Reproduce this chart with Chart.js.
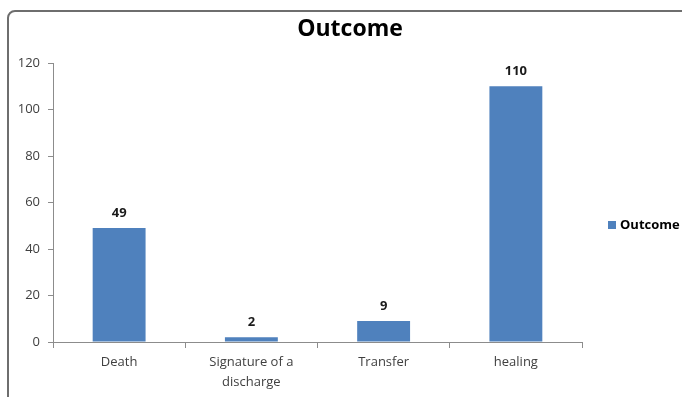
<!DOCTYPE html>
<html>
<head>
<meta charset="utf-8">
<script src="https://cdn.jsdelivr.net/npm/chart.js@4.4.1/dist/chart.umd.min.js"></script>
<style>
  html, body { margin: 0; padding: 0; background: #fff; }
  #wrap { width: 682px; height: 397px; position: relative; }
</style>
</head>
<body>
<div id="wrap"><canvas id="c" width="682" height="397"></canvas></div>
<script>
const categories = ['Death', ['Signature of a', 'discharge'], 'Transfer', 'healing'];
const outcomeValues = [49, 2, 9, 110];
const yTicks = [0, 20, 40, 60, 80, 100, 120];
const seriesName = 'Outcome';
const chartTitle = 'Outcome';

const BAR_BLUE = '#4f81bd';
const AXIS_GREY = '#8c8c8c';
const FONT = "'Open Sans', 'Noto Sans', sans-serif";

// Rounded chart frame, title, value labels and legend
const decorations = {
  id: 'decorations',
  beforeDraw(chart) {
    const ctx = chart.ctx;
    ctx.save();
    ctx.fillStyle = '#fff';
    ctx.fillRect(0, 0, chart.width, chart.height);
    ctx.strokeStyle = '#6e6e6e';
    ctx.lineWidth = 2;
    ctx.beginPath();
    ctx.roundRect(8, 11, 720, 440, 7);
    ctx.stroke();
    ctx.restore();
  },
  afterDatasetsDraw(chart) {
    const ctx = chart.ctx;
    ctx.save();
    // title
    ctx.fillStyle = '#000';
    ctx.font = "bold 23px " + FONT;
    ctx.textAlign = 'center';
    ctx.textBaseline = 'alphabetic';
    ctx.fillText(chartTitle, 350, 36);

    // values above bars
    const meta = chart.getDatasetMeta(0);
    ctx.font = "bold 13px " + FONT;
    ctx.textBaseline = 'middle';
    ctx.fillStyle = '#1a1a1a';
    meta.data.forEach((bar, i) => {
      ctx.fillText(String(chart.data.datasets[0].data[i]), bar.x, bar.y - 15);
    });

    // legend
    const ds = chart.data.datasets[0];
    const lx = chart.chartArea.right + 26;
    const ly = 225;
    ctx.fillStyle = ds.backgroundColor;
    ctx.fillRect(lx, ly - 4, 8, 8);
    ctx.fillStyle = '#000';
    ctx.font = "bold 13px " + FONT;
    ctx.textAlign = 'left';
    ctx.fillText(ds.label, lx + 12, ly);
    ctx.restore();
  }
};

new Chart(document.getElementById('c'), {
  type: 'bar',
  data: {
    labels: categories,
    datasets: [{
      label: seriesName,
      data: outcomeValues,
      backgroundColor: BAR_BLUE,
      borderWidth: 0,
      barPercentage: 0.4,
      categoryPercentage: 1.0
    }]
  },
  options: {
    responsive: false,
    animation: false,
    devicePixelRatio: 1,
    layout: { padding: { left: 10, right: 100, top: 63, bottom: 0 } },
    plugins: {
      legend: { display: false },
      title: { display: false },
      tooltip: { enabled: false }
    },
    scales: {
      x: {
        grid: { drawOnChartArea: false, offset: true, tickLength: 6, color: AXIS_GREY, lineWidth: 1 },
        border: { color: AXIS_GREY, width: 1 },
        ticks: {
          color: '#404040',
          font: { family: FONT, size: 13, lineHeight: 1.5 },
          padding: 5,
          maxRotation: 0
        },
        afterFit(scale) { scale.height = 55; }
      },
      y: {
        min: 0,
        max: 120,
        grid: { drawOnChartArea: false, tickLength: 5, color: AXIS_GREY, lineWidth: 1 },
        border: { color: AXIS_GREY, width: 1 },
        afterBuildTicks(scale) { scale.ticks = yTicks.map(v => ({ value: v })); },
        ticks: {
          color: '#404040',
          font: { family: FONT, size: 13 },
          padding: 8
        },
        afterFit(scale) { scale.width = 43; }
      }
    }
  },
  plugins: [decorations]
});
</script>
</body>
</html>
